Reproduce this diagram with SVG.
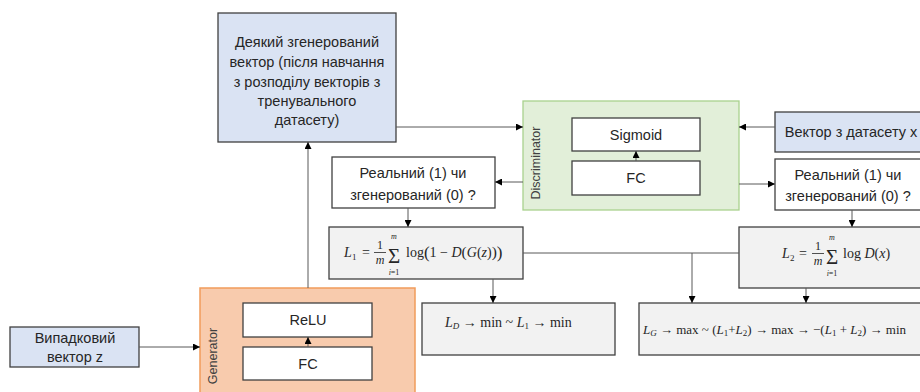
<svg xmlns="http://www.w3.org/2000/svg" width="920" height="392" viewBox="0 0 920 392">
<defs>
<marker id="ah" viewBox="0 0 8 8" refX="8" refY="4" markerWidth="7" markerHeight="7" markerUnits="userSpaceOnUse" orient="auto">
<path d="M0,0 L8,4 L0,8 z" fill="#000"/>
</marker>
<style>
.box{stroke:#404040;stroke-width:1.3}
.blue{fill:#dae3f3}
.white{fill:#ffffff}
.gray{fill:#f2f2f2}
.green{fill:#e2efd9;stroke:#a9d18e;stroke-width:1.3}
.orange{fill:#f8cbad;stroke:#f19c5b;stroke-width:1.5}
.t{font-family:"Liberation Sans","Noto Sans",Arial,sans-serif;font-size:14.5px;fill:#262626;text-anchor:middle}
.lbl{font-family:"Liberation Sans","Noto Sans",Arial,sans-serif;font-size:12.5px;fill:#404040;text-anchor:middle}
.m{font-family:"Liberation Serif","DejaVu Serif",serif;font-size:14px;fill:#262626}
.i{font-style:italic}
.s{font-size:9px}
.fr{font-size:12px;text-anchor:middle}
.sig{font-size:21px;text-anchor:middle}
.lim{font-size:8px;text-anchor:middle}
.c{stroke:#595959;stroke-width:1;fill:none}
.a{marker-end:url(#ah)}
</style>
</defs>

<g id="generated-vector">
<rect class="box blue" x="218" y="13" width="178" height="129"/>
<text class="t"><tspan x="307" y="47">Деякий згенерований</tspan><tspan x="307" y="67">вектор (після навчання</tspan><tspan x="307" y="87">з розподілу векторів з</tspan><tspan x="307" y="106">тренувального</tspan><tspan x="307" y="125">датасету)</tspan></text>
</g>

<g id="discriminator">
<rect class="green" x="523" y="101" width="216" height="109"/>
<text class="lbl" transform="translate(540,163) rotate(-90)">Discriminator</text>
<g id="d-sigmoid">
<rect class="box white" x="572" y="118" width="128" height="33"/>
<text class="t" x="636" y="140">Sigmoid</text>
</g>
<g id="d-fc">
<rect class="box white" x="572" y="161" width="128" height="34"/>
<text class="t" x="636" y="183">FC</text>
</g>
</g>

<g id="dataset-vector">
<rect class="box blue" x="775" y="112" width="147" height="40"/>
<text class="t" x="851" y="137">Вектор з датасету x</text>
</g>

<g id="real1">
<rect class="box white" x="332" y="157" width="163" height="51"/>
<text class="t"><tspan x="413" y="178">Реальний (1) чи</tspan><tspan x="413" y="200">згенерований (0) ?</tspan></text>
</g>

<g id="real2">
<rect class="box white" x="775" y="159" width="147" height="51"/>
<text class="t"><tspan x="848" y="180">Реальний (1) чи</tspan><tspan x="848" y="201">згенерований (0) ?</tspan></text>
</g>

<g id="loss1">
<rect class="box gray" x="329" y="227" width="194" height="52"/>
<text class="m" y="257"><tspan x="344" class="i">L</tspan><tspan x="352" y="260" class="s">1</tspan><tspan x="362" y="257">=</tspan></text>
<text class="m fr" x="380" y="249">1</text>
<line x1="374" y1="252.5" x2="386" y2="252.5" stroke="#262626" stroke-width="0.8"/>
<text class="m fr i" x="380" y="264">m</text>
<text class="m sig" x="394" y="263">Σ</text>
<text class="m lim i" x="394" y="239">m</text>
<text class="m lim" x="394" y="275"><tspan class="i">i</tspan>=1</text>
<text class="m" x="406" y="257">log<tspan font-size="17" dy="1">(</tspan><tspan dy="-1">1 − </tspan><tspan class="i">D</tspan><tspan font-size="15.5">(</tspan><tspan class="i">G</tspan>(<tspan class="i">z</tspan>)<tspan font-size="15.5">)</tspan><tspan font-size="17" dy="1">)</tspan></text>
</g>

<g id="loss2">
<rect class="box gray" x="739" y="227" width="183" height="61"/>
<text class="m" y="258"><tspan x="782" class="i">L</tspan><tspan x="790" y="261" class="s">2</tspan><tspan x="799" y="258">=</tspan></text>
<text class="m fr" x="818" y="250">1</text>
<line x1="812" y1="253.5" x2="824" y2="253.5" stroke="#262626" stroke-width="0.8"/>
<text class="m fr i" x="818" y="265">m</text>
<text class="m sig" x="832" y="264">Σ</text>
<text class="m lim i" x="832" y="240">m</text>
<text class="m lim" x="832" y="276"><tspan class="i">i</tspan>=1</text>
<text class="m" x="843" y="258">log <tspan class="i">D</tspan>(<tspan class="i">x</tspan>)</text>
</g>

<g id="loss-d">
<rect class="box gray" x="422" y="303" width="193" height="52"/>
<text class="m" x="445" y="327"><tspan class="i">L</tspan><tspan class="i s" dy="2">D</tspan><tspan dy="-2"> → min  ~ </tspan><tspan class="i">L</tspan><tspan class="s" dy="2">1</tspan><tspan dy="-2"> → min</tspan></text>
</g>

<g id="loss-g">
<rect class="box gray" x="639" y="303" width="285" height="52"/>
<text class="m" x="643" y="334" style="font-size:13px"><tspan class="i">L</tspan><tspan class="i s" dy="2">G</tspan><tspan dy="-2"> → max  ~ (</tspan><tspan class="i">L</tspan><tspan class="s" dy="2">1</tspan><tspan dy="-2">+</tspan><tspan class="i">L</tspan><tspan class="s" dy="2">2</tspan><tspan dy="-2">) → max  → −(</tspan><tspan class="i">L</tspan><tspan class="s" dy="2">1</tspan><tspan dy="-2"> + </tspan><tspan class="i">L</tspan><tspan class="s" dy="2">2</tspan><tspan dy="-2">) → min</tspan></text>
</g>

<g id="random-vector">
<rect class="box blue" x="10" y="327" width="129" height="40"/>
<text class="t"><tspan x="75" y="343">Випадковий</tspan><tspan x="75" y="362">вектор z</tspan></text>
</g>

<g id="generator">
<rect class="orange" x="200" y="288" width="215" height="110"/>
<text class="lbl" transform="translate(217,356) rotate(-90)">Generator</text>
<g id="g-relu">
<rect class="box white" x="243" y="303" width="129" height="34"/>
<text class="t" x="308" y="325">ReLU</text>
</g>
<g id="g-fc">
<rect class="box white" x="243" y="347" width="129" height="33"/>
<text class="t" x="308" y="369">FC</text>
</g>
</g>

<g id="connectors">
<line class="c a" x1="396" y1="127" x2="523" y2="127"/>
<line class="c a" x1="775" y1="127" x2="739" y2="127"/>
<line class="c a" x1="523" y1="182" x2="495" y2="182"/>
<line class="c a" x1="739" y1="184" x2="775" y2="184"/>
<line class="c a" x1="636" y1="161" x2="636" y2="151"/>
<line class="c a" x1="408" y1="208" x2="408" y2="227"/>
<line class="c a" x1="852" y1="210" x2="852" y2="227"/>
<line class="c a" x1="493" y1="279" x2="493" y2="303"/>
<line class="c" x1="523" y1="253" x2="739" y2="253"/>
<line class="c a" x1="692" y1="253" x2="692" y2="303"/>
<line class="c a" x1="806" y1="288" x2="806" y2="303"/>
<line class="c a" x1="139" y1="347" x2="200" y2="347"/>
<line class="c a" x1="308" y1="288" x2="308" y2="142"/>
<line class="c a" x1="308" y1="347" x2="308" y2="337"/>
</g>
</svg>
